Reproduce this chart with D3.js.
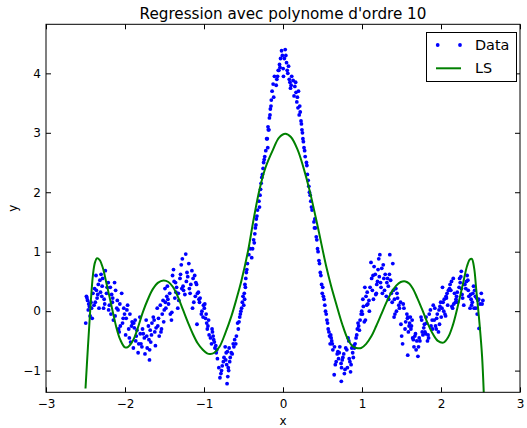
<!DOCTYPE html>
<html><head><meta charset="utf-8">
<script src="https://cdn.jsdelivr.net/npm/d3@7"></script>
<style>body{margin:0;background:#fff}text{font-family:"DejaVu Sans",sans-serif}</style>
</head><body>
<svg id="c" width="527" height="428"></svg>
<script>
const titleText = "Regression avec polynome d'ordre 10";
const xLabel = "x", yLabel = "y";
const xTicks = [-3,-2,-1,0,1,2,3];
const yTicks = [-1,0,1,2,3,4];
const legendLabels = ["Data","LS"];
// noisy observations (x, y)
const dataPoints = [
[-2.497,-0.20],[-2.459,0.12],[-2.488,0.25],[-2.423,0.05],[-2.442,-0.08],[-2.474,0.18],[-2.406,0.30],[-2.465,0.02],[-2.431,0.15],[-2.415,-0.12],[-2.481,0.22],[-2.45,0.08],
[-2.338,0.45],[-2.392,0.10],[-2.31,0.32],[-2.367,0.60],[-2.353,0.22],[-2.329,0.05],[-2.385,0.38],[-2.318,0.52],[-2.376,0.15],[-2.345,0.28],[-2.303,0.62],[-2.362,0.35],
[-2.271,0.05],[-2.226,0.40],[-2.249,0.68],[-2.294,0.25],[-2.212,0.48],[-2.257,0.12],[-2.283,0.55],[-2.234,0.30],[-2.207,0.02],[-2.289,0.42],[-2.264,0.20],
[-2.119,0.35],[-2.178,-0.05],[-2.155,0.22],[-2.132,0.48],[-2.198,0.10],[-2.147,-0.15],[-2.169,0.28],[-2.104,0.05],[-2.186,0.40],[-2.125,-0.08],[-2.16,0.15],
[-2.097,0.18],[-2.059,-0.25],[-2.088,0.02],[-2.023,-0.12],[-2.042,0.30],[-2.074,-0.35],[-2.006,-0.05],[-2.065,0.12],[-2.031,-0.20],[-2.015,0.05],[-2.081,-0.30],
[-1.938,-0.05],[-1.992,-0.40],[-1.91,-0.18],[-1.967,0.10],[-1.953,-0.30],[-1.929,-0.52],[-1.985,-0.12],[-1.918,-0.25],[-1.976,0.02],[-1.945,-0.45],[-1.903,-0.20],
[-1.871,-0.15],[-1.826,-0.55],[-1.849,-0.32],[-1.894,-0.62],[-1.812,-0.10],[-1.857,-0.42],[-1.883,-0.28],[-1.834,-0.70],[-1.807,-0.38],[-1.889,-0.20],[-1.864,-0.50],
[-1.719,-0.62],[-1.778,-0.30],[-1.755,-0.45],[-1.732,-0.15],[-1.798,-0.55],[-1.747,-0.72],[-1.769,-0.38],[-1.704,-0.25],[-1.786,-0.60],[-1.725,-0.42],[-1.69,-0.82],
[-1.697,-0.48],[-1.659,-0.20],[-1.688,-0.65],[-1.623,-0.35],[-1.642,-0.10],[-1.674,-0.52],[-1.606,-0.28],[-1.665,-0.40],[-1.631,-0.15],[-1.615,-0.58],[-1.681,-0.32],
[-1.538,-0.30],[-1.592,0.05],[-1.51,-0.18],[-1.567,-0.42],[-1.553,0.10],[-1.529,-0.05],[-1.585,-0.25],[-1.518,0.18],[-1.576,-0.12],[-1.545,-0.35],[-1.503,0.02],
[-1.471,0.25],[-1.426,-0.05],[-1.449,0.12],[-1.494,0.38],[-1.412,-0.15],[-1.457,0.20],[-1.483,0.05],[-1.434,0.30],[-1.407,-0.02],[-1.489,0.15],[-1.464,0.42],
[-1.319,0.18],[-1.378,0.50],[-1.355,0.32],[-1.332,0.05],[-1.398,0.60],[-1.347,0.40],[-1.369,0.22],[-1.304,0.55],[-1.386,0.70],[-1.325,0.30],[-1.36,0.48],
[-1.297,0.62],[-1.259,0.35],[-1.288,0.78],[-1.223,0.50],[-1.242,0.28],[-1.274,0.88],[-1.206,0.58],[-1.265,0.42],[-1.231,0.96],[-1.215,0.65],[-1.281,0.38],
[-1.138,0.55],[-1.192,0.80],[-1.11,0.25],[-1.167,0.45],[-1.153,0.68],[-1.129,0.15],[-1.185,0.38],[-1.118,0.60],[-1.176,0.30],[-1.145,0.05],[-1.103,0.48],
[-1.071,0.32],[-1.026,0.00],[-1.049,0.22],[-1.094,0.45],[-1.012,-0.10],[-1.057,0.15],[-1.083,0.30],[-1.034,-0.05],[-1.007,0.10],[-1.089,-0.22],[-1.064,0.20],
[-0.996,0.05],[-0.958,-0.30],[-0.981,-0.12],[-0.99,0.12],[-0.935,-0.40],[-0.966,-0.20],[-0.973,-0.05],[-0.918,-0.45],[-0.95,-0.25],[-0.905,-0.55],[-0.942,-0.15],
[-0.893,-0.35],[-0.862,-0.62],[-0.877,-0.48],[-0.83,-0.80],[-0.898,-0.30],[-0.851,-0.58],[-0.845,-0.70],[-0.884,-0.42],[-0.812,-0.95],[-0.838,-0.65],[-0.869,-0.52],
[-0.719,-0.70],[-0.778,-1.00],[-0.755,-0.85],[-0.732,-0.60],[-0.798,-1.12],[-0.747,-0.78],[-0.769,-0.92],[-0.704,-0.68],[-0.786,-1.05],[-0.725,-0.82],[-0.708,-1.22],[-0.713,-0.90],
[-0.682,-0.62],[-0.693,-0.95],[-0.668,-0.78],[-0.699,-1.10],[-0.63,-0.55],[-0.675,-0.85],[-0.655,-0.70],[-0.688,-1.00],[-0.612,-0.48],[-0.643,-0.72],[-0.622,-0.60],
[-0.598,-0.55],[-0.575,-0.20],[-0.59,-0.42],[-0.54,-0.05],[-0.566,-0.30],[-0.533,0.00],[-0.557,-0.18],[-0.515,0.15],[-0.548,-0.10],[-0.506,0.25],[-0.524,0.05],
[-0.497,0.10],[-0.482,0.45],[-0.49,0.30],[-0.464,0.65],[-0.486,0.20],[-0.471,0.55],[-0.45,0.80],[-0.476,0.40],[-0.432,0.95],[-0.458,0.70],[-0.415,1.05],
[-0.396,0.90],[-0.372,1.20],[-0.385,1.05],[-0.35,1.40],[-0.364,1.15],[-0.338,1.55],[-0.357,1.30],[-0.322,1.70],[-0.343,1.45],[-0.305,1.85],[-0.33,1.60],
[-0.298,1.75],[-0.284,2.05],[-0.268,2.25],[-0.291,1.95],[-0.252,2.40],[-0.277,2.15],[-0.238,2.55],[-0.26,2.30],[-0.218,2.70],[-0.245,2.50],[-0.207,2.90],[-0.231,2.60],
[-0.193,2.75],[-0.186,3.05],[-0.199,2.90],[-0.172,3.25],[-0.19,3.10],[-0.16,3.40],[-0.178,3.05],[-0.148,3.55],[-0.165,3.30],[-0.138,3.70],[-0.152,3.45],[-0.125,3.82],
[-0.118,3.60],[-0.078,3.90],[-0.108,3.95],[-0.06,4.05],[-0.086,3.80],[-0.044,4.15],[-0.069,3.95],[-0.031,4.25],[-0.052,4.05],[-0.018,4.38],[-0.038,4.10],[-0.008,4.30],
[0.006,3.95],[0.017,4.25],[0.002,4.08],[0.028,4.40],[0.088,3.85],[0.045,4.18],[0.061,4.00],[0.036,4.30],[0.095,3.75],[0.053,4.05],[0.079,3.90],[0.07,4.12],
[0.103,3.80],[0.14,3.62],[0.11,3.95],[0.15,3.78],[0.175,3.52],[0.128,3.88],[0.165,3.68],[0.19,3.42],[0.16,3.85],[0.182,3.60],[0.205,3.30],[0.196,3.70],
[0.212,3.45],[0.228,3.20],[0.24,3.05],[0.218,3.35],[0.252,2.90],[0.233,3.15],[0.266,2.75],[0.246,3.00],[0.281,2.60],[0.258,2.85],[0.297,2.50],[0.274,2.70],
[0.302,2.45],[0.318,2.20],[0.335,2.00],[0.309,2.30],[0.352,1.85],[0.327,2.10],[0.368,1.70],[0.344,1.95],[0.392,1.50],[0.36,1.75],[0.398,1.40],
[0.403,1.55],[0.421,1.25],[0.41,1.40],[0.437,1.05],[0.428,1.20],[0.455,0.85],[0.444,1.00],[0.472,0.65],[0.462,0.80],[0.489,0.45],[0.48,0.60],[0.497,0.30],
[0.503,0.40],[0.52,0.20],[0.538,0.00],[0.511,0.25],[0.556,-0.15],[0.529,0.10],[0.572,-0.30],[0.547,-0.05],[0.589,-0.42],[0.564,-0.20],[0.597,-0.55],[0.581,-0.35],
[0.604,-0.40],[0.631,-0.65],[0.617,-0.50],[0.673,-0.85],[0.652,-0.60],[0.648,-1.07],[0.686,-0.72],[0.61,-0.45],[0.662,-0.90],[0.695,-0.68],[0.624,-0.55],
[0.703,-0.80],[0.741,-0.95],[0.712,-0.70],[0.777,-1.05],[0.758,-0.78],[0.738,-1.18],[0.794,-0.62],[0.735,-0.88],[0.769,-0.72],[0.785,-0.98],[0.719,-0.60],[0.75,-0.82],
[0.862,-0.90],[0.808,-0.65],[0.89,-0.78],[0.833,-0.50],[0.847,-0.85],[0.871,-0.62],[0.815,-0.95],[0.882,-0.70],[0.824,-0.45],[0.855,-1.02],[0.897,-0.58],[0.838,-0.80],
[0.912,-0.55],[0.941,-0.30],[0.903,-0.62],[0.958,-0.25],[0.925,-0.45],[0.976,-0.15],[0.933,-0.40],[0.95,-0.20],[0.989,-0.05],[0.967,-0.32],[0.996,0.00],
[1.029,-0.18],[1.074,0.12],[1.051,0.25],[1.006,-0.05],[1.088,0.18],[1.043,-0.15],[1.017,0.08],[1.066,0.32],[1.093,0.00],[1.011,0.20],[1.036,0.40],[1.059,0.10],
[1.181,0.30],[1.122,0.55],[1.145,0.20],[1.168,0.62],[1.102,0.40],[1.153,0.75],[1.131,0.35],[1.196,0.50],[1.114,0.82],[1.175,0.28],[1.14,0.60],[1.187,0.45],
[1.203,0.70],[1.241,0.40],[1.212,0.88],[1.277,0.55],[1.258,0.30],[1.226,0.95],[1.294,0.62],[1.235,0.48],[1.269,0.78],[1.285,0.35],[1.219,0.58],[1.25,0.72],
[1.362,0.52],[1.308,0.25],[1.39,0.80],[1.333,0.42],[1.347,0.62],[1.352,0.95],[1.371,0.30],[1.315,0.48],[1.382,0.15],[1.324,0.55],[1.397,0.35],[1.338,0.20],
[1.429,0.38],[1.474,0.05],[1.451,0.22],[1.406,-0.10],[1.488,0.15],[1.443,0.30],[1.417,-0.05],[1.466,0.10],[1.493,-0.22],[1.411,0.20],[1.436,0.00],
[1.581,-0.10],[1.522,0.12],[1.545,-0.30],[1.568,-0.05],[1.502,-0.42],[1.553,-0.18],[1.531,0.05],[1.596,-0.25],[1.514,-0.55],[1.575,-0.12],[1.579,-0.74],[1.587,-0.35],
[1.603,-0.20],[1.641,-0.45],[1.612,-0.10],[1.677,-0.38],[1.658,-0.60],[1.626,-0.25],[1.694,-0.50],[1.635,-0.15],[1.669,-0.42],[1.685,-0.65],[1.619,-0.30],[1.65,-0.48],
[1.762,-0.35],[1.708,-0.76],[1.79,-0.22],[1.733,-0.50],[1.747,-0.10],[1.771,-0.40],[1.715,-0.60],[1.782,-0.28],[1.724,-0.45],[1.755,-0.15],[1.797,-0.35],
[1.829,-0.50],[1.874,-0.25],[1.851,-0.05],[1.806,-0.38],[1.888,-0.15],[1.843,-0.45],[1.817,-0.20],[1.866,0.02],[1.893,-0.30],[1.811,-0.10],[1.836,-0.40],
[1.981,-0.22],[1.922,0.05],[1.945,-0.12],[1.968,-0.35],[1.902,0.10],[1.953,-0.05],[1.931,-0.25],[1.996,0.15],[1.914,-0.15],[1.975,0.02],[1.94,-0.30],[1.987,0.08],
[2.003,-0.10],[2.041,0.20],[2.012,0.05],[2.077,0.30],[2.058,-0.08],[2.026,0.15],[2.094,0.35],[2.035,0.00],[2.069,0.22],[2.085,0.10],[2.019,0.40],[2.05,-0.05],[2.064,0.25],
[2.162,0.12],[2.108,0.38],[2.19,0.20],[2.133,0.50],[2.147,0.05],[2.171,0.30],[2.115,0.45],[2.182,0.15],[2.124,0.35],[2.155,0.55],[2.197,0.25],[2.138,0.08],
[2.229,0.40],[2.274,0.22],[2.251,0.58],[2.206,0.32],[2.288,0.10],[2.243,0.48],[2.257,0.67],[2.266,0.28],[2.293,0.45],[2.211,0.15],[2.236,0.55],[2.259,0.38],
[2.381,0.20],[2.322,0.50],[2.345,0.35],[2.368,0.05],[2.302,0.45],[2.353,0.25],[2.331,0.60],[2.396,0.15],[2.314,0.38],[2.375,0.28],[2.34,0.52],[2.387,0.10],
[2.403,0.30],[2.441,0.05],[2.412,0.42],[2.477,0.20],[2.458,-0.05],[2.426,0.35],[2.494,0.12],[2.435,0.25],[2.482,-0.29],[2.469,0.18],[2.419,0.05],[2.45,0.22],
[2.51,0.30],[2.52,0.12],[2.53,0.18]
];
// fitted polynomial curve (x, y)
const lsCurve = [
[-2.5,-1.30],[-2.47,-0.62],[-2.44,0.02],[-2.405,0.62],[-2.38,0.82],[-2.355,0.89],[-2.32,0.86],[-2.281,0.73],[-2.24,0.50],[-2.196,0.24],[-2.15,-0.04],[-2.11,-0.27],[-2.06,-0.48],[-2.0,-0.61],[-1.96,-0.60],[-1.92,-0.54],[-1.88,-0.44],[-1.83,-0.25],[-1.775,-0.02],[-1.71,0.20],[-1.648,0.37],[-1.58,0.48],[-1.513,0.515],[-1.45,0.49],[-1.395,0.41],[-1.33,0.24],[-1.268,0.03],[-1.2,-0.20],[-1.142,-0.38],[-1.08,-0.54],[-1.015,-0.65],[-0.96,-0.71],[-0.92,-0.72],[-0.87,-0.70],[-0.804,-0.60],[-0.73,-0.37],[-0.652,-0.08],[-0.59,0.20],[-0.525,0.52],[-0.44,1.03],[-0.378,1.50],[-0.3,2.03],[-0.22,2.42],[-0.125,2.72],[-0.05,2.92],[0.03,2.985],[0.1,2.93],[0.187,2.71],[0.26,2.41],[0.335,2.04],[0.44,1.42],[0.546,0.76],[0.61,0.42],[0.672,0.13],[0.75,-0.22],[0.82,-0.47],[0.88,-0.59],[0.93,-0.62],[0.99,-0.62],[1.053,-0.55],[1.12,-0.42],[1.18,-0.25],[1.245,-0.05],[1.306,0.14],[1.37,0.31],[1.433,0.43],[1.49,0.49],[1.55,0.50],[1.6,0.46],[1.643,0.38],[1.7,0.22],[1.77,0.0],[1.83,-0.20],[1.896,-0.38],[1.96,-0.50],[2.03,-0.53],[2.09,-0.44],[2.149,-0.24],[2.21,0.07],[2.276,0.45],[2.33,0.76],[2.365,0.87],[2.39,0.88],[2.42,0.72],[2.445,0.38],[2.467,0.08],[2.487,-0.20],[2.52,-0.76],[2.545,-1.5]
];

const svg = d3.select("#c");
const L = 46, R = 520, T = 24.3, B = 392.3;
const x = d3.scaleLinear().domain([-3,3]).range([L,R]);
const y = d3.scaleLinear().domain([-1.365,4.825]).range([B,T]);

svg.append("defs").append("clipPath").attr("id","clip")
  .append("rect").attr("x",L).attr("y",T).attr("width",R-L).attr("height",B-T);

const plot = svg.append("g").attr("clip-path","url(#clip)");
plot.selectAll("circle").data(dataPoints).enter().append("circle")
  .attr("cx",d=>x(d[0])).attr("cy",d=>y(d[1])).attr("r",1.9).attr("fill","#0000ff");
plot.append("path").datum(lsCurve)
  .attr("d", d3.line().x(d=>x(d[0])).y(d=>y(d[1])).curve(d3.curveCatmullRom.alpha(0.5)))
  .attr("fill","none").attr("stroke","#008000").attr("stroke-width",2);

const fmt = d3.format("d");
function styleAxis(g){ g.select(".domain").remove(); g.selectAll("line").attr("stroke","#000"); g.selectAll("text").attr("font-size",12).attr("fill","#000").attr("font-family","DejaVu Sans"); }
svg.append("g").attr("transform",`translate(0,${B})`)
  .call(d3.axisBottom(x).tickValues(xTicks).tickFormat(fmt).tickSizeInner(-5).tickSizeOuter(0).tickPadding(7)).call(styleAxis);
svg.append("g").attr("transform",`translate(0,${T})`)
  .call(d3.axisTop(x).tickValues(xTicks).tickFormat("").tickSizeInner(-5).tickSizeOuter(0)).call(styleAxis);
svg.append("g").attr("transform",`translate(${L},0)`)
  .call(d3.axisLeft(y).tickValues(yTicks).tickFormat(fmt).tickSizeInner(-5).tickSizeOuter(0).tickPadding(5)).call(styleAxis);
svg.append("g").attr("transform",`translate(${R},0)`)
  .call(d3.axisRight(y).tickValues(yTicks).tickFormat("").tickSizeInner(-5).tickSizeOuter(0)).call(styleAxis);

svg.append("rect").attr("x",L).attr("y",T).attr("width",R-L).attr("height",B-T)
  .attr("fill","none").attr("stroke","#000").attr("stroke-width",1);

svg.append("text").attr("x",(L+R)/2).attr("y",19).attr("text-anchor","middle").attr("font-size",15.2).text(titleText);
svg.append("text").attr("x",(L+R)/2).attr("y",425).attr("text-anchor","middle").attr("font-size",12).text(xLabel);
svg.append("text").attr("transform",`translate(17,${(T+B)/2}) rotate(-90)`).attr("text-anchor","middle").attr("font-size",12).text(yLabel);

// legend
const lg = svg.append("g");
lg.append("rect").attr("x",426.5).attr("y",32.5).attr("width",90).attr("height",49).attr("fill","#fff").attr("stroke","#000").attr("stroke-width",1);
lg.selectAll("circle.m").data([437.7,460]).enter().append("circle").attr("class","m")
  .attr("cx",d=>d).attr("cy",45).attr("r",1.9).attr("fill","#0000ff");
lg.append("line").attr("x1",436).attr("x2",461).attr("y1",68.3).attr("y2",68.3).attr("stroke","#008000").attr("stroke-width",2);
lg.selectAll("text").data(legendLabels).enter().append("text")
  .attr("x",475).attr("y",(d,i)=>50+i*23.3).attr("font-size",14.4).text(d=>d);
</script>
</body></html>
